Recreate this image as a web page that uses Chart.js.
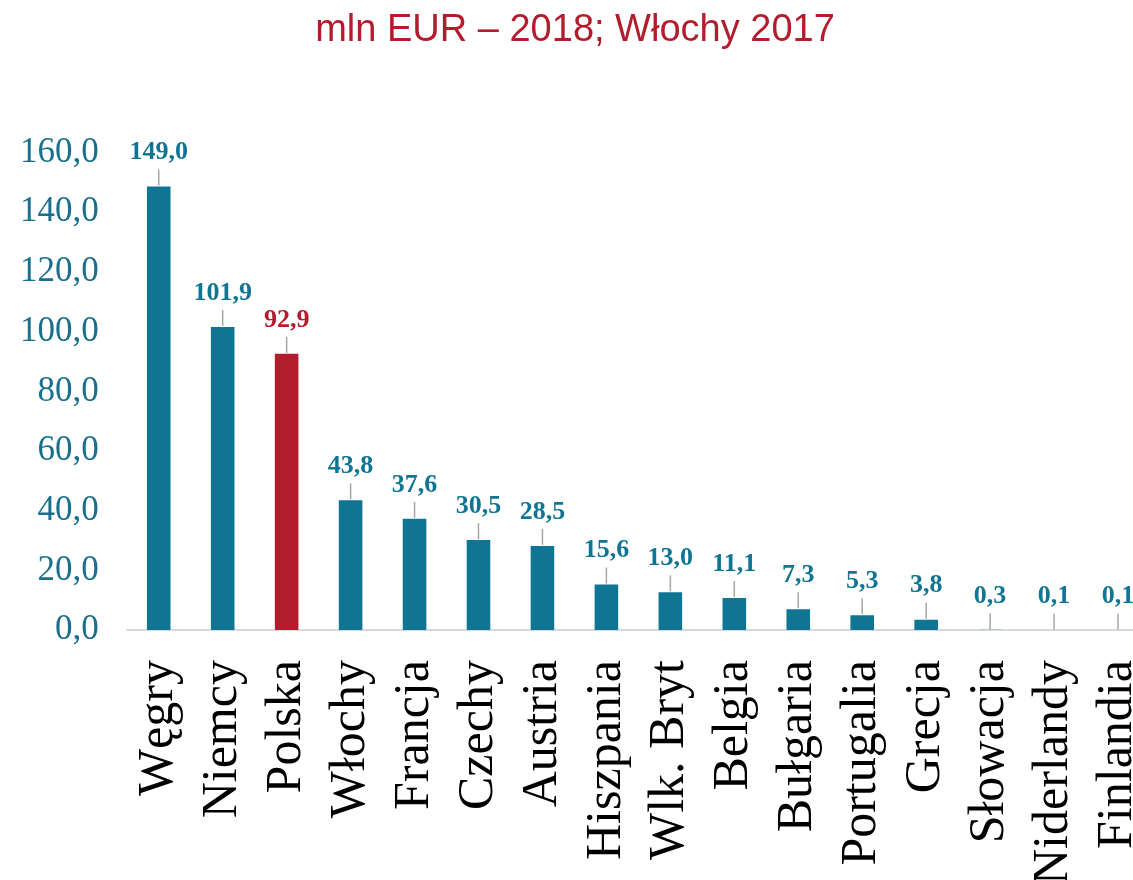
<!DOCTYPE html>
<html>
<head>
<meta charset="utf-8">
<script src="https://cdn.jsdelivr.net/npm/chart.js@4"></script>
<style>
  html, body { margin: 0; padding: 0; background: #fff; overflow: hidden; width: 1133px; height: 880px; }
  #wrap { width: 1150px; height: 907px; position: relative; }
</style>
</head>
<body>
<div id="wrap"><canvas id="barChart"></canvas></div>
<script>
'use strict';

// kraje i wartości (mln EUR)
var categories = ['Węgry', 'Niemcy', 'Polska', 'Włochy', 'Francja', 'Czechy', 'Austria',
    'Hiszpania', 'Wlk. Bryt', 'Belgia', 'Bułgaria', 'Portugalia', 'Grecja',
    'Słowacja', 'Niderlandy', 'Finlandia'];
var values = [149.0, 101.9, 92.9, 43.8, 37.6, 30.5, 28.5, 15.6, 13.0, 11.1, 7.3, 5.3, 3.8, 0.3, 0.1, 0.1];
var highlighted = ['Polska'];
var yTicks = [0, 20, 40, 60, 80, 100, 120, 140, 160];

var TEAL = '#107493';
var RED = '#b31c2d';

function fmt(v) {
    return v.toFixed(1).replace('.', ',');
}

var barColors = categories.map(function (c) {
    return highlighted.indexOf(c) >= 0 ? RED : TEAL;
});

// etykiety wartości nad słupkami z linią odniesienia
var valueLabels = {
    id: 'valueLabels',
    afterDatasetsDraw: function (chart) {
        var ctx = chart.ctx;
        var meta = chart.getDatasetMeta(0);
        ctx.save();
        ctx.font = 'bold 26px "Liberation Serif"';
        ctx.textAlign = 'center';
        ctx.textBaseline = 'middle';
        meta.data.forEach(function (bar, i) {
            var top = bar.y;
            var ly = top - 33;
            var lineTop = ly + 17;
            if (top - lineTop > 3) {
                ctx.strokeStyle = '#a6a6a6';
                ctx.lineWidth = 1.5;
                ctx.beginPath();
                ctx.moveTo(bar.x, top);
                ctx.lineTo(bar.x, lineTop);
                ctx.stroke();
            }
            ctx.fillStyle = barColors[i];
            ctx.fillText(fmt(values[i]), bar.x, ly);
        });
        ctx.restore();
    }
};

var chart = new Chart(document.getElementById('barChart'), {
    type: 'bar',
    data: {
        labels: categories,
        datasets: [{
            data: values,
            backgroundColor: barColors,
            borderColor: 'rgba(255,255,255,0.35)',
            borderWidth: 1,
            barPercentage: 0.4,
            categoryPercentage: 1
        }]
    },
    plugins: [valueLabels],
    options: {
        responsive: true,
        maintainAspectRatio: false,
        animation: false,
        layout: { padding: { left: 0, right: 0, top: 0, bottom: 0 } },
        plugins: {
            legend: { display: false },
            tooltip: { enabled: false },
            title: {
                display: true,
                text: 'mln EUR – 2018; Włochy 2017',
                color: RED,
                font: { family: '"Liberation Sans", Arial, sans-serif', size: 38, weight: 'normal' },
                padding: { top: 8, bottom: 99 }
            }
        },
        scales: {
            x: {
                grid: { display: false },
                border: { display: true, color: '#d9d9d9', width: 2 },
                afterFit: function (scale) {
                    // obrócone etykiety nie rezerwują miejsca po bokach
                    scale.paddingLeft = 0;
                    scale.paddingRight = 0;
                },
                ticks: {
                    color: '#000',
                    minRotation: 90,
                    maxRotation: 90,
                    padding: 22,
                    autoSkip: false,
                    font: { family: '"Liberation Serif", "Times New Roman", serif', size: 50 }
                }
            },
            y: {
                min: 0,
                max: 160,
                grid: { display: false },
                border: { display: false },
                afterBuildTicks: function (axis) {
                    axis.ticks = yTicks.map(function (v) { return { value: v }; });
                },
                ticks: {
                    color: '#1a6f8c',
                    padding: 20,
                    font: { family: '"Liberation Serif", "Times New Roman", serif', size: 35 },
                    callback: function (v) { return fmt(v); }
                }
            }
        }
    }
});
</script>
</body>
</html>
